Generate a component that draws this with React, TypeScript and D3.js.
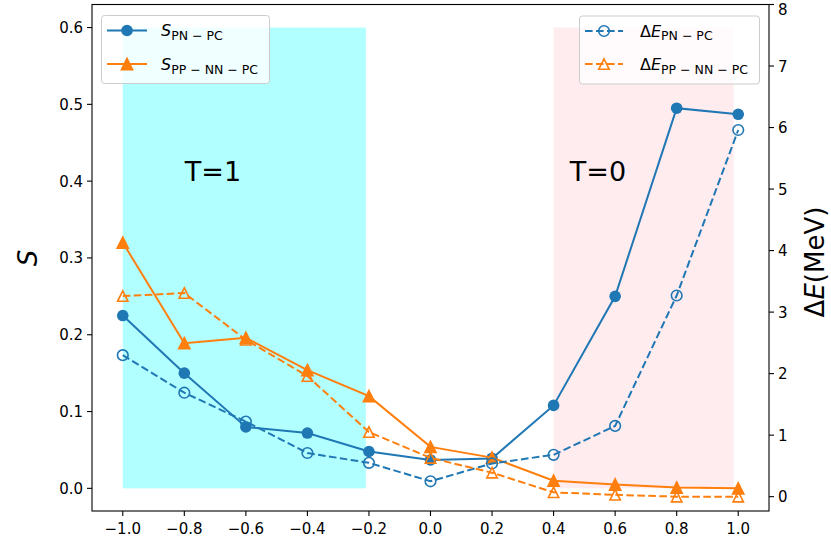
import React from "react";
import * as d3 from "d3";

const xValues = [-1.0, -0.8, -0.6, -0.4, -0.2, 0.0, 0.2, 0.4, 0.6, 0.8, 1.0];
const sPN = [0.225, 0.15, 0.08, 0.072, 0.048, 0.037, 0.039, 0.108, 0.25, 0.495, 0.487];
const sPP = [0.32, 0.189, 0.196, 0.154, 0.12, 0.054, 0.04, 0.01, 0.005, 0.001, 0.0];
const dEPN = [2.3, 1.69, 1.22, 0.71, 0.55, 0.25, 0.54, 0.68, 1.15, 3.27, 5.96];
const dEPP = [3.26, 3.31, 2.55, 1.96, 1.05, 0.63, 0.39, 0.07, 0.03, 0.0, 0.0];

const xTicks = [-1.0, -0.8, -0.6, -0.4, -0.2, 0.0, 0.2, 0.4, 0.6, 0.8, 1.0];
const leftTicks = [0.0, 0.1, 0.2, 0.3, 0.4, 0.5, 0.6];
const rightTicks = [0, 1, 2, 3, 4, 5, 6, 7, 8];

const t1Region = [-1.0, -0.21];
const t0Region = [0.4, 0.985];
const regionS = [0, 0.6];

const BLUE = "#1f77b4";
const ORANGE = "#ff7f0e";
const FONT = "DejaVu Sans, sans-serif";

const L = 92, R = 769, T = 4.5, B = 511;

const x = d3.scaleLinear().domain([-1.1, 1.1]).range([L, R]);
const yL = d3.scaleLinear().domain([-0.0295, 0.63]).range([B, T]);
const yR = d3.scaleLinear().domain([-0.233, 8]).range([B, T]);

function fmtMinus(v: number, digits: number) {
  const s = v.toFixed(digits);
  return s.replace("-", "\u2212");
}

function Tri({ cx, cy, r, fill, stroke }: any) {
  const p = `M${cx},${cy - r} L${cx + r},${cy + r} L${cx - r},${cy + r} Z`;
  return <path d={p} fill={fill} stroke={stroke} strokeWidth={1.6} strokeLinejoin="miter" />;
}

function Series({ vals, y, color, dashed, marker, open }: any) {
  const line = d3.line<number>().x((_, i) => x(xValues[i])).y((v) => y(v));
  return (
    <g>
      <path
        d={line(vals) || ""}
        fill="none"
        stroke={color}
        strokeWidth={2}
        strokeDasharray={dashed ? "7.6,3.4" : undefined}
      />
      {vals.map((v: number, i: number) => {
        const cx = x(xValues[i]);
        const cy = y(v);
        if (marker === "o") {
          return open ? (
            <circle key={i} cx={cx} cy={cy} r={5.3} fill="none" stroke={color} strokeWidth={1.6} />
          ) : (
            <circle key={i} cx={cx} cy={cy} r={5.8} fill={color} />
          );
        }
        return open ? (
          <Tri key={i} cx={cx} cy={cy} r={5.2} fill="none" stroke={color} />
        ) : (
          <Tri key={i} cx={cx} cy={cy} r={5.6} fill={color} stroke={color} />
        );
      })}
    </g>
  );
}

function LegendLabel({ xPos, yPos, main, sub }: any) {
  return (
    <text x={xPos} y={yPos} fontFamily={FONT} fontSize={16} fill="#000">
      {main[0] === "Δ" ? (
        <>
          <tspan>Δ</tspan>
          <tspan fontStyle="italic">E</tspan>
        </>
      ) : (
        <tspan fontStyle="italic">{main}</tspan>
      )}
      <tspan dy={3.5} fontSize={12.5}>{sub}</tspan>
    </text>
  );
}

export default function App() {
  return (
    <svg
      width={831}
      height={550}
      style={{ position: "absolute", left: 0, top: 0, background: "#fff" }}
    >
      <rect x={0} y={0} width={831} height={550} fill="#fff" />
      {/* shaded regions */}
      <rect
        x={x(t1Region[0])}
        y={yL(regionS[1])}
        width={x(t1Region[1]) - x(t1Region[0])}
        height={yL(regionS[0]) - yL(regionS[1])}
        fill="#00ffff"
        fillOpacity={0.3}
      />
      <rect
        x={x(t0Region[0])}
        y={yL(regionS[1])}
        width={x(t0Region[1]) - x(t0Region[0])}
        height={yL(regionS[0]) - yL(regionS[1])}
        fill="#ffc0cb"
        fillOpacity={0.3}
      />
      <text x={213} y={181} textAnchor="middle" fontFamily={FONT} fontSize={27}>T=1</text>
      <text x={598} y={181} textAnchor="middle" fontFamily={FONT} fontSize={27}>T=0</text>

      {/* left axis series */}
      <Series vals={sPN} y={yL} color={BLUE} marker="o" />
      <Series vals={sPP} y={yL} color={ORANGE} marker="^" />

      {/* left legend */}
      <rect x={101.5} y={15.5} width={168} height={68} rx={3} fill="#fff" fillOpacity={0.8} stroke="#cccccc" strokeWidth={1} />
      <line x1={107} x2={147} y1={30.5} y2={30.5} stroke={BLUE} strokeWidth={2} />
      <circle cx={127} cy={30.5} r={5.8} fill={BLUE} />
      <LegendLabel xPos={161} yPos={36} main="S" sub="PN − PC" />
      <line x1={107} x2={147} y1={64} y2={64} stroke={ORANGE} strokeWidth={2} />
      <Tri cx={127} cy={64} r={5.6} fill={ORANGE} stroke={ORANGE} />
      <LegendLabel xPos={161} yPos={70} main="S" sub="PP − NN − PC" />

      {/* right axis series */}
      <Series vals={dEPN} y={yR} color={BLUE} marker="o" dashed open />
      <Series vals={dEPP} y={yR} color={ORANGE} marker="^" dashed open />

      {/* right legend */}
      <rect x={579.5} y={16} width={180} height={68} rx={3} fill="#fff" fillOpacity={0.8} stroke="#cccccc" strokeWidth={1} />
      <line x1={585} x2={623} y1={31} y2={31} stroke={BLUE} strokeWidth={2} strokeDasharray="7.6,3.4" />
      <circle cx={604} cy={31} r={5.3} fill="none" stroke={BLUE} strokeWidth={1.6} />
      <LegendLabel xPos={640} yPos={36.5} main="ΔE" sub="PN − PC" />
      <line x1={585} x2={623} y1={64} y2={64} stroke={ORANGE} strokeWidth={2} strokeDasharray="7.6,3.4" />
      <Tri cx={604} cy={64} r={5.2} fill="none" stroke={ORANGE} />
      <LegendLabel xPos={640} yPos={70} main="ΔE" sub="PP − NN − PC" />

      {/* frame */}
      <rect x={L} y={T} width={R - L} height={B - T} fill="none" stroke="#000" strokeWidth={1.1} />

      {/* x axis ticks */}
      {xTicks.map((t) => (
        <g key={"x" + t}>
          <line x1={x(t)} x2={x(t)} y1={B} y2={B + 5} stroke="#000" strokeWidth={1.1} />
          <text x={x(t)} y={B + 23} textAnchor="middle" fontFamily={FONT} fontSize={15}>
            {fmtMinus(t, 1)}
          </text>
        </g>
      ))}
      {/* left ticks */}
      {leftTicks.map((t) => (
        <g key={"l" + t}>
          <line x1={L - 5} x2={L} y1={yL(t)} y2={yL(t)} stroke="#000" strokeWidth={1.1} />
          <text x={L - 9} y={yL(t) + 5.5} textAnchor="end" fontFamily={FONT} fontSize={15}>
            {fmtMinus(t, 1)}
          </text>
        </g>
      ))}
      {/* right ticks */}
      {rightTicks.map((t) => (
        <g key={"r" + t}>
          <line x1={R} x2={R + 5} y1={yR(t)} y2={yR(t)} stroke="#000" strokeWidth={1.1} />
          <text x={R + 9} y={Math.max(yR(t) + 5.5, 14.5)} textAnchor="start" fontFamily={FONT} fontSize={15}>
            {t}
          </text>
        </g>
      ))}
      {/* axis labels */}
      <text
        transform={`translate(37, 258) rotate(-90)`}
        textAnchor="middle"
        fontFamily={FONT}
        fontSize={26}
        fontStyle="italic"
      >
        S
      </text>
      <text
        transform={`translate(824, 262) rotate(-90)`}
        textAnchor="middle"
        fontFamily={FONT}
        fontSize={26}
      >
        <tspan>Δ</tspan>
        <tspan fontStyle="italic">E</tspan>
        <tspan>(MeV)</tspan>
      </text>
    </svg>
  );
}
